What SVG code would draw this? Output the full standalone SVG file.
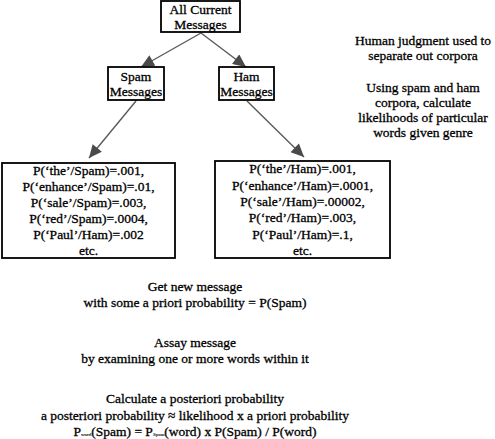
<svg xmlns="http://www.w3.org/2000/svg" width="495" height="439" viewBox="0 0 495 439" font-family="'Liberation Serif', 'Times New Roman', serif">
<defs>
<style>
text { font-family: "Liberation Serif", "Times New Roman", serif; font-size: 13.5px; fill: #000; stroke: #000; stroke-width: 0.3px; text-anchor: middle; }
.box { fill: #fff; stroke: #000; stroke-width: 1.8; }
.conn { stroke: #5a5a5a; stroke-width: 1.4; fill: none; marker-end: url(#ah); }
.sub { font-size: 5px; stroke-width: 0.1px; }
</style>
<marker id="ah" markerUnits="userSpaceOnUse" markerWidth="14" markerHeight="12" refX="13" refY="6" orient="auto" viewBox="0 0 13 12"><path d="M0,0 L13,6 L0,12 z" fill="#4a4a4a"/></marker>
</defs>
<rect width="495" height="439" fill="#fff"/>
<g id="connectors">
<line class="conn" x1="201" y1="33" x2="141" y2="67"/>
<line class="conn" x1="201" y1="33" x2="246" y2="67"/>
<line class="conn" x1="136" y1="101" x2="89" y2="158"/>
<line class="conn" x1="247" y1="101" x2="304" y2="157"/>
</g>
<g id="all">
<rect class="box" x="161" y="1" width="79" height="31"/>
<text x="200.5" y="14">All Current</text>
<text x="200.5" y="29">Messages</text>
</g>
<g id="spam">
<rect class="box" x="108" y="67" width="56" height="33"/>
<text x="136" y="81">Spam</text>
<text x="136" y="96">Messages</text>
</g>
<g id="ham">
<rect class="box" x="219" y="67" width="55" height="33"/>
<text x="246.5" y="81">Ham</text>
<text x="246.5" y="96">Messages</text>
</g>
<g id="spamprobs">
<rect class="box" x="2" y="163" width="173" height="95"/>
<text x="88.5" y="175">P(‘the’/Spam)=.001,</text>
<text x="88.5" y="191">P(‘enhance’/Spam)=.01,</text>
<text x="88.5" y="207">P(‘sale’/Spam)=.003,</text>
<text x="88.5" y="223">P(‘red’/Spam)=.0004,</text>
<text x="88.5" y="239">P(‘Paul’/Ham)=.002</text>
<text x="88.5" y="255">etc.</text>
</g>
<g id="hamprobs">
<rect class="box" x="215" y="161" width="175" height="97"/>
<text x="302.5" y="173">P(‘the’/Ham)=.001,</text>
<text x="302.5" y="189.5">P(‘enhance’/Ham)=.0001,</text>
<text x="302.5" y="206">P(‘sale’/Ham)=.00002,</text>
<text x="302.5" y="222">P(‘red’/Ham)=.003,</text>
<text x="302.5" y="238.5">P(‘Paul’/Ham)=.1,</text>
<text x="302.5" y="255">etc.</text>
</g>
<g id="notes">
<text x="423" y="45">Human judgment used to</text>
<text x="423" y="60">separate out corpora</text>
<text x="423" y="92">Using spam and ham</text>
<text x="423" y="107">corpora, calculate</text>
<text x="423" y="122">likelihoods of particular</text>
<text x="423" y="137">words given genre</text>
</g>
<g id="steps">
<text x="195" y="291">Get new message</text>
<text x="195" y="307">with some a priori probability = P(Spam)</text>
<text x="195" y="347">Assay message</text>
<text x="195" y="363">by examining one or more words within it</text>
<text x="195" y="403">Calculate a posteriori probability</text>
<text x="195" y="420">a posteriori probability ≈ likelihood x a priori probability</text>
<text x="195" y="436">P<tspan class="sub">word</tspan>(Spam) = P<tspan class="sub">Spam</tspan>(word) x P(Spam) / P(word)</text>
</g>
</svg>
